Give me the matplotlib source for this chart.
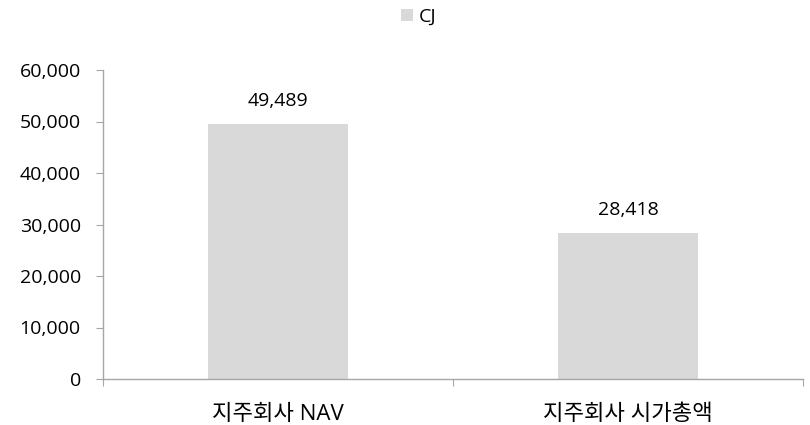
import matplotlib
matplotlib.use("Agg")
import matplotlib.pyplot as plt
from matplotlib.ticker import FuncFormatter

FONT = ['Open Sans', 'Noto Sans CJK KR', 'DejaVu Sans']
plt.rcParams['font.family'] = FONT

categories = ['지주회사 NAV', '지주회사 시가총액']
values = [49489, 28418]
series_name = 'CJ'

fig = plt.figure(figsize=(8.1, 4.25), dpi=100)
ax = fig.add_axes([103/810, 1-379/425, 700/810, (379-70)/425])

x = list(range(len(categories)))
ax.bar(x, values, width=0.4, color='#d9d9d9', label=series_name)
for xi, v in zip(x, values):
    ax.annotate(f'{v:,}', xy=(xi, v), xytext=(0, 13), textcoords='offset points',
                ha='center', va='baseline', fontsize=14, color='#000000')

ax.set_xlim(-0.5, len(categories) - 0.5)
ax.set_ylim(0, 60000)
ax.set_yticks(range(0, 60001, 10000))
ax.yaxis.set_major_formatter(FuncFormatter(lambda v, p: f'{int(v):,}'))

ax.set_xticks([i - 0.5 for i in range(len(categories) + 1)])
ax.set_xticklabels([])
ax.set_xticks(x, minor=True)
ax.set_xticklabels(categories, minor=True, fontsize=16)
ax.tick_params(axis='x', which='major', length=5, color='#a6a6a6', direction='out')
ax.tick_params(axis='x', which='minor', length=0, pad=18)
ax.tick_params(axis='y', length=5, color='#a6a6a6', direction='out', labelsize=14, pad=11)

for s in ['top', 'right']:
    ax.spines[s].set_visible(False)
for s in ['left', 'bottom']:
    ax.spines[s].set_color('#a6a6a6')
    ax.spines[s].set_linewidth(1)

fig.legend(loc='center', bbox_to_anchor=(419/810, 1-17/425), frameon=False, fontsize=14,
           handlelength=0.62, handleheight=0.62, handletextpad=0.3)

fig.savefig('out.png', dpi=100)
